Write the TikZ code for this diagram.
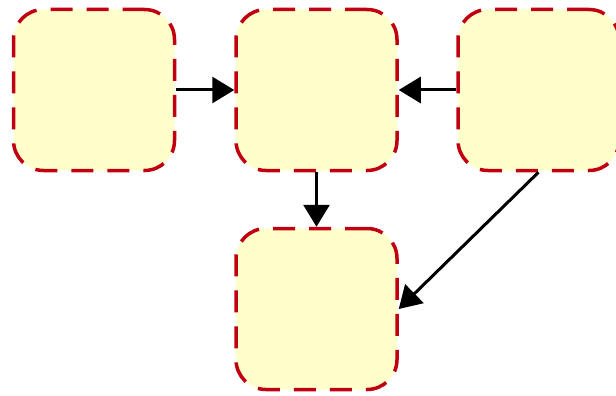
\documentclass[tikz,border=0pt]{standalone}
\usetikzlibrary{arrows.meta}
\definecolor{boxfill}{HTML}{FFFFCC}
\definecolor{boxline}{HTML}{C00010}
\begin{document}
\begin{tikzpicture}[x=1pt,y=-1pt,
  box/.style={draw=boxline,fill=boxfill,line width=3.5pt,rounded corners=30pt,
    dash pattern=on 22pt off 14pt,minimum width=161pt,minimum height=161pt,inner sep=0pt},
  conn/.style={line width=3pt,-{Triangle[length=22pt,width=26pt]}}]
\useasboundingbox (0,0) rectangle (616,396);
\node[box] (b1) at (94,90) {};
\node[box] (b2) at (316.5,90) {};
\node[box] (b3) at (538.5,90) {};
\node[box] (b4) at (316.5,309) {};
\draw[conn] (b1.east) -- (b2.west);
\draw[conn] (b3.west) -- (b2.east);
\draw[conn] (b2.south) -- (b4.north);
\draw[conn] (b3.south) -- (b4.east);
\end{tikzpicture}
\end{document}
